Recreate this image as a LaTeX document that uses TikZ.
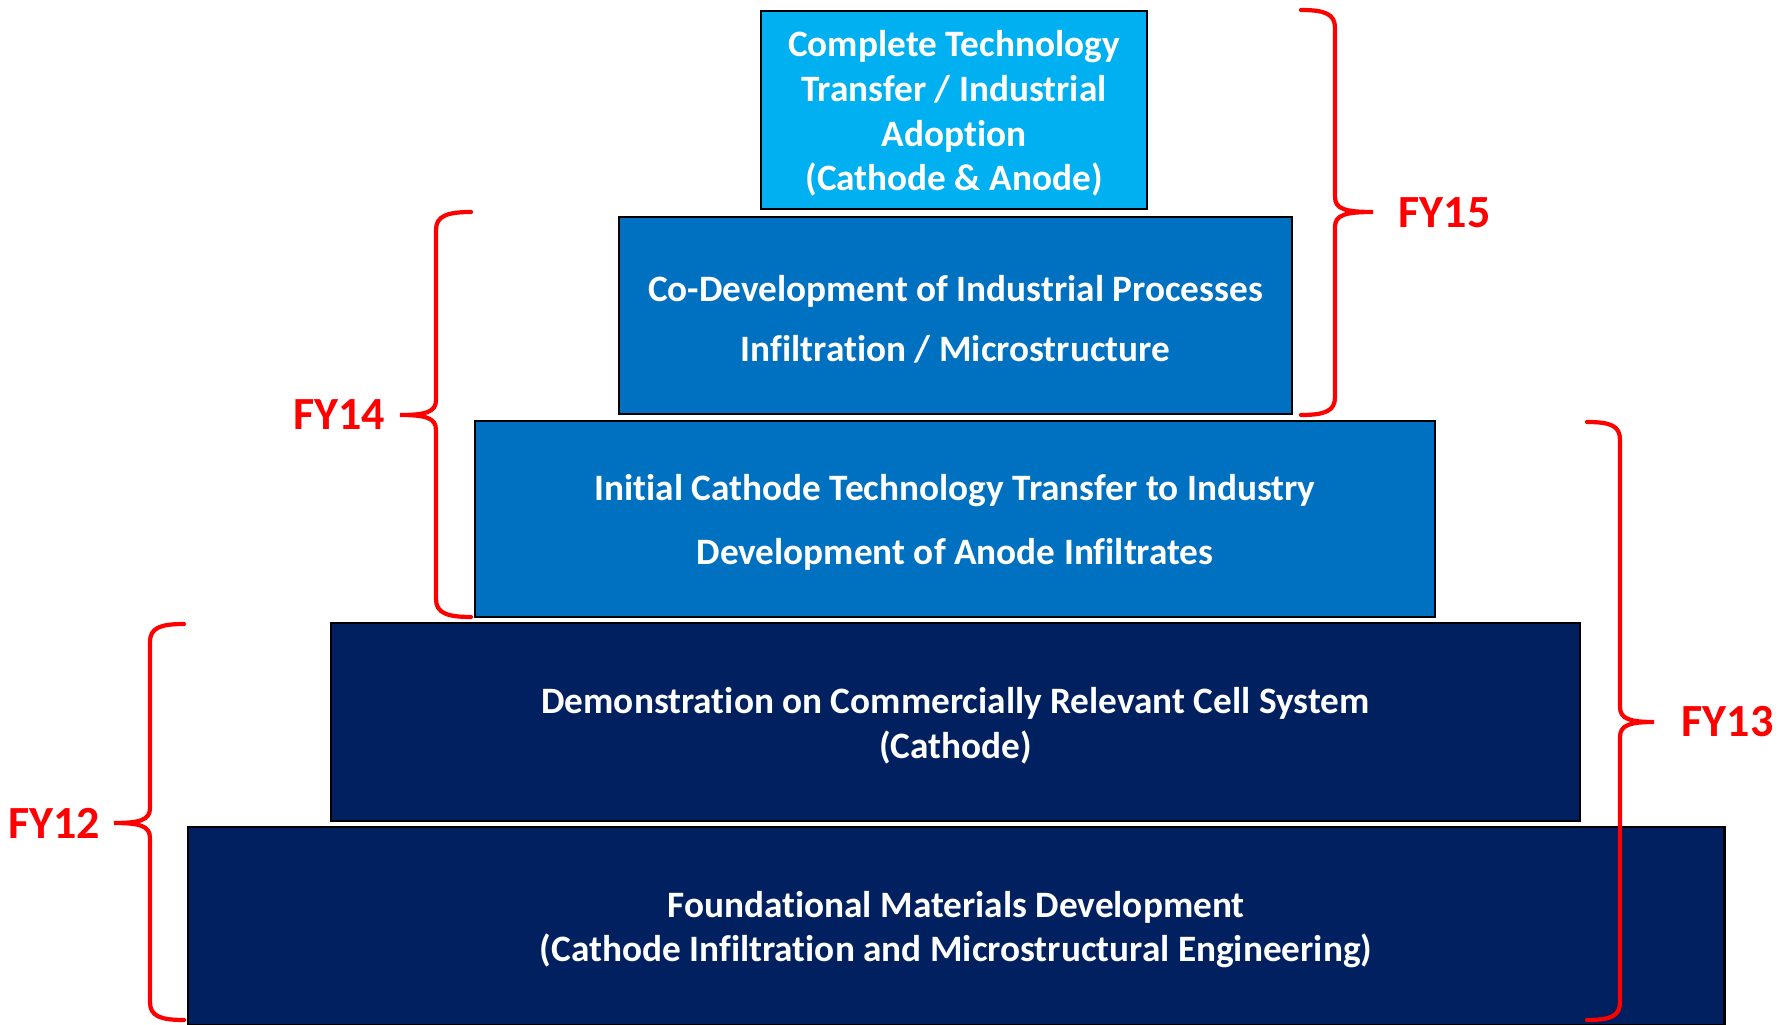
\documentclass[tikz,border=0pt]{standalone}
\usepackage{fontspec}
\setmainfont{Carlito}[Ligatures=NoCommon]

\definecolor{tierlight}{HTML}{00B0F0}
\definecolor{tiermid}{HTML}{0070C0}
\definecolor{tierdark}{HTML}{002060}

\tikzset{
  tier/.style={draw=black, line width=0.6pt, inner sep=0pt},
  tiertext/.style={text=white, align=center, inner sep=0pt, yshift=-1pt,
    font=\bfseries\fontsize{10.6}{12.66}\selectfont},
  fybrace/.style={draw=red, line width=1.2pt, line cap=round},
  fylabel/.style={text=red, inner sep=0pt,
    font=\bfseries\fontsize{13.1}{15}\selectfont},
}

\begin{document}
\begin{tikzpicture}[x=0.01cm, y=-0.01cm]
  \fill[white] (0,0) rectangle (1791,1025);
  \useasboundingbox (0,0) rectangle (1791,1025);

  % pyramid, top tier first
  \node[tier, fill=tierlight, minimum width=3.86cm, minimum height=1.98cm,
    label={[tiertext]center:{Complete Technology\\Transfer / Industrial\\Adoption\\(Cathode \& Anode)}}]
    (transfer) at (954,110) {};
  \node[tier, fill=tiermid, minimum width=6.73cm, minimum height=1.97cm,
    label={[tiertext]center:{Co-Development of Industrial Processes\\[4.5pt]Infiltration / Microstructure}}]
    (codev) at (955.5,315.5) {};
  \node[tier, fill=tiermid, minimum width=9.60cm, minimum height=1.96cm,
    label={[tiertext]center:{Initial Cathode Technology Transfer to Industry\\[5.5pt]Development of Anode Infiltrates}}]
    (initial) at (955,519) {};
  \node[tier, fill=tierdark, minimum width=12.49cm, minimum height=1.98cm,
    label={[tiertext]center:{Demonstration on Commercially Relevant Cell System\\(Cathode)}}]
    (demo) at (955.5,722) {};
  \node[tier, fill=tierdark, minimum width=15.36cm, minimum height=1.98cm,
    label={[tiertext]center:{Foundational Materials Development\\(Cathode Infiltration and Microstructural Engineering)}}]
    (foundation) at (956,926) {};

  % fiscal year labels
  \node[fylabel, anchor=west] (fy15) at (1398,213) {FY15};
  \node[fylabel, anchor=east] (fy14) at (386,415) {FY14};
  \node[fylabel, anchor=west] (fy13) at (1681,722) {FY13};
  \node[fylabel, anchor=east] (fy12) at (101,823) {FY12};

  % braces
  \draw[fybrace] (1301,10) .. controls (1325,10) and (1335,14) .. (1335,28)
    -- (1335,197) .. controls (1335,209) and (1345,212) .. (1373,212)
    .. controls (1345,212) and (1335,215) .. (1335,227)
    -- (1335,397) .. controls (1335,411) and (1325,415) .. (1301,415);
  \draw[fybrace] (471,212) .. controls (447,212) and (436,216) .. (436,230)
    -- (436,400) .. controls (436,412) and (426,415) .. (400,415)
    .. controls (426,415) and (436,418) .. (436,430)
    -- (436,599) .. controls (436,613) and (447,617) .. (471,617);
  \draw[fybrace] (1587,422) .. controls (1611,422) and (1620,426) .. (1620,440)
    -- (1620,707) .. controls (1620,719) and (1630,722) .. (1654,722)
    .. controls (1630,722) and (1620,725) .. (1620,737)
    -- (1620,1002) .. controls (1620,1016) and (1611,1020) .. (1587,1020);
  \draw[fybrace] (184,624) .. controls (160,624) and (150,628) .. (150,642)
    -- (150,808) .. controls (150,820) and (140,823) .. (114,823)
    .. controls (140,823) and (150,826) .. (150,838)
    -- (150,1002) .. controls (150,1016) and (160,1020) .. (184,1020);
\end{tikzpicture}
\end{document}
